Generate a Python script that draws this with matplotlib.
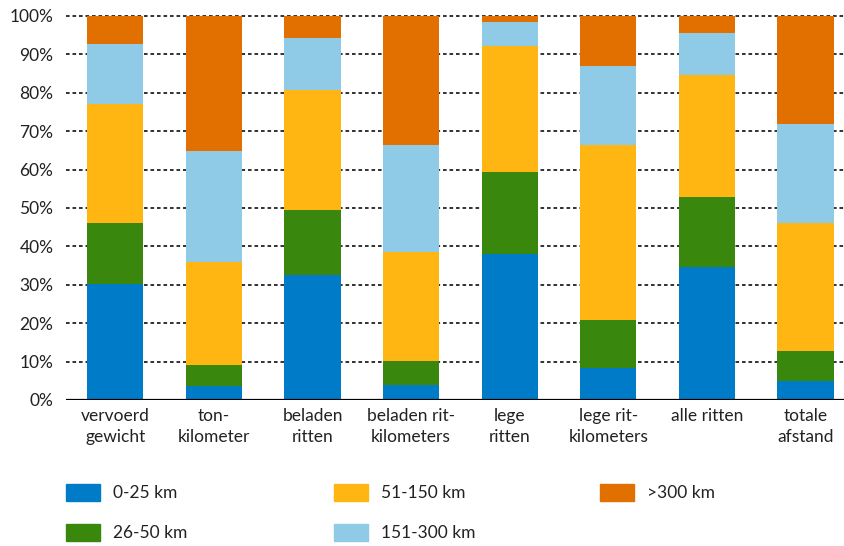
import matplotlib
matplotlib.use("Agg")
import matplotlib.pyplot as plt
from matplotlib.patches import Rectangle
import numpy as np

plt.rcParams['font.family'] = ['Lato', 'DejaVu Sans']

# categorieen
categories = ["vervoerd\ngewicht", "ton-\nkilometer", "beladen\nritten", "beladen rit-\nkilometers",
              "lege\nritten", "lege rit-\nkilometers", "alle ritten", "totale\nafstand"]

# aandelen per afstandsklasse (%)
km_0_25 = [30.3, 3.7, 32.6, 3.9, 38.1, 8.4, 34.6, 4.9]
km_26_50 = [15.8, 5.4, 16.9, 6.3, 21.3, 12.4, 18.3, 7.9]
km_51_150 = [31.1, 26.9, 31.1, 28.4, 32.9, 45.6, 31.7, 33.3]
km_151_300 = [15.5, 28.8, 13.7, 27.8, 6.2, 20.6, 11.0, 25.8]
km_300 = [7.3, 35.2, 5.7, 33.6, 1.5, 13.0, 4.4, 28.1]

series = [km_0_25, km_26_50, km_51_150, km_151_300, km_300]
labels = ["0-25 km", "26-50 km", "51-150 km", "151-300 km", ">300 km"]
colors = ["#007BC7", "#39870C", "#FFB612", "#8FCAE7", "#E17000"]

fig = plt.figure(figsize=(8.45, 5.46), dpi=100)
ax = fig.add_axes([66/845, 1-400/546, 1-66/845, 384/546])

x = np.arange(len(categories))
bottom = np.zeros(len(categories))
for vals, col in zip(series, colors):
    ax.bar(x, vals, width=0.57, bottom=bottom, color=col, zorder=3)
    bottom += np.array(vals)

ax.set_xlim(-0.5, 7.4)
ax.set_ylim(0, 100)
ax.set_yticks(np.arange(0, 101, 10))
ax.set_yticklabels([f"{v}%" for v in range(0, 101, 10)])
ax.set_xticks(x)
ax.set_xticklabels(categories, linespacing=1.35)
ax.tick_params(length=0, labelsize=12.5, colors='#222222')
ax.tick_params(axis='y', pad=9)
ax.tick_params(axis='x', pad=6)

for v in range(10, 101, 10):
    ax.axhline(v, color='#222222', lw=1.3, ls=(0, (2, 1.6)), zorder=1, clip_on=False)
ax.axhline(0, color='black', lw=1.6, zorder=4)

for s in ax.spines.values():
    s.set_visible(False)

# legenda
pos = [(66, 484), (66, 524), (334, 484), (334, 524), (600, 484)]
for (px, py), lab, col in zip(pos, labels, colors):
    fig.patches.append(Rectangle((px/845, 1-(py+17)/546), 34/845, 17/546,
                                 transform=fig.transFigure, color=col))
    fig.text((px+47)/845, 1-(py+9)/546, lab, fontsize=12.5, va='center', ha='left', color='#222222')

fig.savefig("out.png", dpi=100)
